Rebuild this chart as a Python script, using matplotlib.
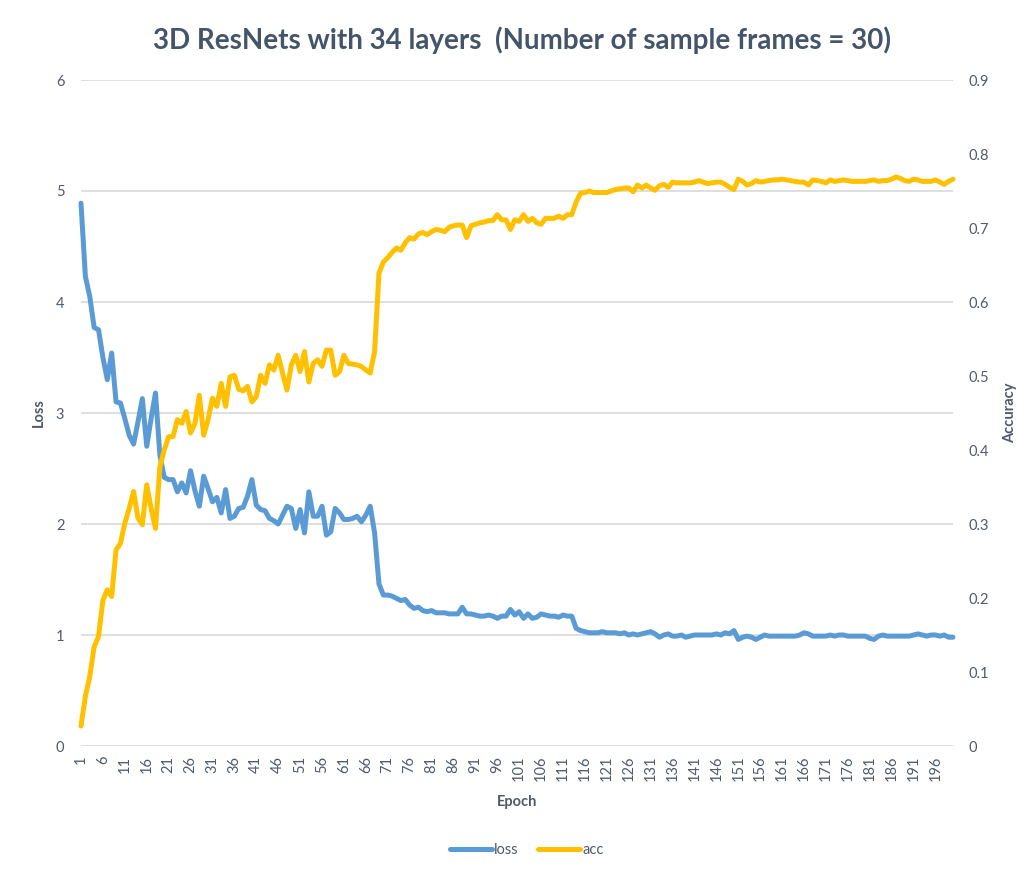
import numpy as np
import matplotlib.pyplot as plt
from matplotlib.lines import Line2D

plt.rcParams['font.family'] = ['Lato', 'DejaVu Sans']

# data
epochs = list(range(1, 201))

loss = [4.89, 4.23, 4.05, 3.77, 3.75, 3.50, 3.30, 3.54, 3.10, 3.09,
        2.95, 2.80, 2.72, 2.92, 3.13, 2.70, 2.95, 3.18, 2.62, 2.42,
        2.40, 2.40, 2.29, 2.37, 2.28, 2.48, 2.30, 2.16, 2.43, 2.32,
        2.20, 2.24, 2.10, 2.31, 2.05, 2.07, 2.14, 2.15, 2.25, 2.40,
        2.17, 2.13, 2.12, 2.05, 2.03, 2.00, 2.08, 2.16, 2.14, 1.96,
        2.13, 1.92, 2.29, 2.07, 2.07, 2.16, 1.90, 1.93, 2.14, 2.10,
        2.04, 2.04, 2.05, 2.07, 2.02, 2.08, 2.16, 1.92, 1.46, 1.36,
        1.36, 1.35, 1.33, 1.31, 1.32, 1.27, 1.24, 1.25, 1.22, 1.21,
        1.22, 1.20, 1.20, 1.20, 1.19, 1.19, 1.19, 1.25, 1.19, 1.19,
        1.18, 1.17, 1.17, 1.18, 1.17, 1.15, 1.17, 1.17, 1.23, 1.18,
        1.21, 1.15, 1.19, 1.15, 1.16, 1.19, 1.18, 1.17, 1.17, 1.16,
        1.18, 1.17, 1.17, 1.06, 1.04, 1.03, 1.02, 1.02, 1.02, 1.03,
        1.02, 1.02, 1.02, 1.01, 1.02, 1.00, 1.01, 1.00, 1.01, 1.02,
        1.03, 1.01, 0.98, 1.00, 1.01, 0.99, 0.99, 1.00, 0.98, 0.99,
        1.00, 1.00, 1.00, 1.00, 1.00, 1.01, 1.00, 1.02, 1.01, 1.04,
        0.96, 0.98, 0.99, 0.98, 0.96, 0.98, 1.00, 0.99, 0.99, 0.99,
        0.99, 0.99, 0.99, 0.99, 1.00, 1.02, 1.01, 0.99, 0.99, 0.99,
        0.99, 1.00, 0.99, 1.00, 1.00, 0.99, 0.99, 0.99, 0.99, 0.99,
        0.97, 0.96, 0.99, 1.00, 0.99, 0.99, 0.99, 0.99, 0.99, 0.99,
        1.00, 1.01, 1.00, 0.99, 1.00, 1.00, 0.99, 1.00, 0.98, 0.98]

acc = [0.027, 0.067, 0.094, 0.134, 0.148, 0.197, 0.211, 0.202, 0.265, 0.274,
       0.301, 0.321, 0.344, 0.308, 0.299, 0.353, 0.321, 0.294, 0.377, 0.400,
       0.418, 0.418, 0.441, 0.436, 0.452, 0.423, 0.436, 0.474, 0.420, 0.441,
       0.470, 0.459, 0.490, 0.459, 0.499, 0.501, 0.482, 0.480, 0.486, 0.465,
       0.472, 0.501, 0.490, 0.515, 0.508, 0.528, 0.504, 0.481, 0.515, 0.528,
       0.506, 0.533, 0.492, 0.517, 0.522, 0.513, 0.535, 0.535, 0.501, 0.506,
       0.528, 0.517, 0.516, 0.515, 0.513, 0.508, 0.504, 0.533, 0.639, 0.654,
       0.660, 0.667, 0.673, 0.670, 0.680, 0.687, 0.685, 0.692, 0.694, 0.691,
       0.695, 0.698, 0.697, 0.695, 0.701, 0.703, 0.704, 0.704, 0.687, 0.703,
       0.705, 0.707, 0.708, 0.710, 0.710, 0.718, 0.711, 0.711, 0.698, 0.711,
       0.709, 0.718, 0.709, 0.713, 0.707, 0.705, 0.713, 0.713, 0.713, 0.716,
       0.713, 0.718, 0.718, 0.735, 0.747, 0.748, 0.750, 0.748, 0.748, 0.748,
       0.748, 0.750, 0.752, 0.753, 0.754, 0.754, 0.749, 0.758, 0.754, 0.758,
       0.754, 0.751, 0.757, 0.759, 0.755, 0.762, 0.761, 0.761, 0.761, 0.761,
       0.762, 0.764, 0.762, 0.760, 0.761, 0.762, 0.762, 0.759, 0.755, 0.752,
       0.766, 0.763, 0.758, 0.760, 0.764, 0.762, 0.763, 0.764, 0.765, 0.765,
       0.766, 0.765, 0.764, 0.763, 0.762, 0.762, 0.758, 0.765, 0.764, 0.763,
       0.761, 0.765, 0.763, 0.764, 0.765, 0.764, 0.763, 0.763, 0.763, 0.763,
       0.764, 0.765, 0.763, 0.764, 0.764, 0.766, 0.769, 0.767, 0.764, 0.763,
       0.766, 0.765, 0.763, 0.763, 0.763, 0.765, 0.762, 0.759, 0.763, 0.766]

loss_ticks = [0, 1, 2, 3, 4, 5, 6]
acc_ticks = [0, 0.1, 0.2, 0.3, 0.4, 0.5, 0.6, 0.7, 0.8, 0.9]
acc_labels = ['0', '0.1', '0.2', '0.3', '0.4', '0.5', '0.6', '0.7', '0.8', '0.9']

blue = '#5B9BD5'
gold = '#FFC000'
txt = '#505A68'
grid = '#D9D9D9'

fig = plt.figure(figsize=(10.29, 8.72), dpi=100)
ax = fig.add_axes([81 / 1029, 1 - 746 / 872, 872 / 1029, 666 / 872])
ax2 = ax.twinx()

for y in loss_ticks:
    ax.axhline(y, color=grid, lw=1.2, zorder=0)

ax.plot(epochs, loss, color=blue, lw=3.6, solid_joinstyle='round',
        solid_capstyle='round', zorder=3, clip_on=False)
ax2.plot(epochs, acc, color=gold, lw=3.6, solid_joinstyle='round',
         solid_capstyle='round', zorder=3, clip_on=False)

ax.set_xlim(1, 200)
ax.set_ylim(0, 6)
ax2.set_ylim(0, 0.9)

ax.set_yticks(loss_ticks)
ax.set_yticklabels([str(t) for t in loss_ticks])
ax2.set_yticks(acc_ticks)
ax2.set_yticklabels(acc_labels)

xt = epochs[::5]
ax.set_xticks(xt)
ax.set_xticklabels([str(t) for t in xt], rotation=90)

for a in (ax, ax2):
    for s in a.spines.values():
        s.set_visible(False)
    a.tick_params(length=0, colors=txt, labelsize=10.5)
ax.tick_params(axis='y', pad=12)
ax2.tick_params(axis='y', pad=11.5)
ax.tick_params(axis='x', pad=7)

ax.set_ylabel('Loss', fontsize=10.5, fontweight='bold', color=txt, labelpad=7)
ax2.set_ylabel('Accuracy', fontsize=10.5, fontweight='bold', color=txt, labelpad=10)
ax.set_xlabel('Epoch', fontsize=10.5, fontweight='bold', color=txt, labelpad=10)

fig.text(0.507, 1 - 40 / 872, '3D ResNets with 34 layers  (Number of sample frames = 30)',
         ha='center', va='center', fontsize=20, fontweight='bold', color='#44546A')

handles = [Line2D([], [], color=blue, lw=3.6, solid_capstyle='round'),
           Line2D([], [], color=gold, lw=3.6, solid_capstyle='round')]
fig.legend(handles, ['loss', 'acc'], loc='center', bbox_to_anchor=(0.512, 1 - 850 / 872),
           ncol=2, frameon=False, fontsize=10.5, handlelength=2.9, handletextpad=0.15,
           columnspacing=1.3, labelcolor=txt)

fig.savefig('out.png', dpi=100)
